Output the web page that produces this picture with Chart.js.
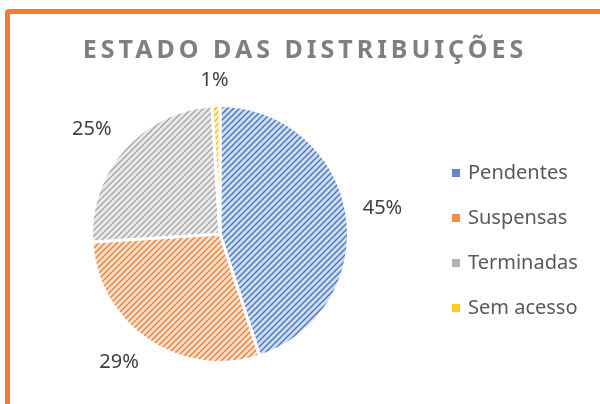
<!DOCTYPE html>
<html><head><meta charset="utf-8">
<script src="https://cdn.jsdelivr.net/npm/chart.js@4.4.0/dist/chart.umd.min.js"></script>
<style>
html,body{margin:0;padding:0;background:#fff;width:600px;height:404px;overflow:hidden;}
#frame{position:absolute;left:5px;top:9px;width:700px;height:500px;border:5px solid #ED7D31;border-radius:4px;box-sizing:border-box;}
#wrap{position:absolute;left:0;top:0;width:600px;height:404px;}
</style></head><body>
<div id="frame"></div>
<div id="wrap"><canvas id="c" width="600" height="404"></canvas></div>
<script>
const chartTitle = 'ESTADO DAS DISTRIBUIÇÕES';
const categories = ['Pendentes', 'Suspensas', 'Terminadas', 'Sem acesso'];
const values = [45, 29, 25, 1];
const baseColors = ['#4472C4', '#ED7D31', '#A5A5A5', '#FFC000'];

function tint(hex, f) {
  const n = parseInt(hex.slice(1), 16);
  const r = (n >> 16) & 255, g = (n >> 8) & 255, b = n & 255;
  const m = v => Math.round(v + (255 - v) * f);
  return 'rgb(' + m(r) + ',' + m(g) + ',' + m(b) + ')';
}
function makePattern(color) {
  const s = 6;
  const c = document.createElement('canvas');
  c.width = s; c.height = s;
  const x = c.getContext('2d');
  x.fillStyle = tint(color, 0.75);
  x.fillRect(0, 0, s, s);
  x.strokeStyle = color;
  x.lineWidth = 1.3;
  x.beginPath();
  x.moveTo(-1, s + 1); x.lineTo(s + 1, -1);
  x.moveTo(-1, 1); x.lineTo(1, -1);
  x.moveTo(s - 1, s + 1); x.lineTo(s + 1, s - 1);
  x.stroke();
  return x.createPattern(c, 'repeat');
}
const patterns = baseColors.map(makePattern);

const FONT = "'Noto Sans', 'Open Sans', sans-serif";

const titlePlugin = {
  id: 'spacedTitle',
  afterDraw(chart, args, opts) {
    const ctx = chart.ctx;
    ctx.save();
    ctx.font = 'bold ' + opts.size + 'px ' + FONT;
    ctx.letterSpacing = opts.spacing + 'px';
    ctx.fillStyle = opts.color;
    ctx.textBaseline = 'middle';
    ctx.textAlign = 'left';
    const w = ctx.measureText(opts.text).width - opts.spacing;
    ctx.fillText(opts.text, opts.cx - w / 2, opts.cy);
    ctx.restore();
  }
};

const pctPlugin = {
  id: 'pctLabels',
  afterDatasetsDraw(chart, args, opts) {
    const ctx = chart.ctx;
    const meta = chart.getDatasetMeta(0);
    const data = chart.data.datasets[0].data;
    const total = data.reduce((a, b) => a + b, 0);
    ctx.save();
    ctx.font = opts.size + 'px ' + FONT;
    ctx.fillStyle = opts.color;
    ctx.textAlign = 'center';
    ctx.textBaseline = 'middle';
    meta.data.forEach((arc, i) => {
      const p = arc.getProps(['x', 'y', 'startAngle', 'endAngle', 'outerRadius'], true);
      const mid = (p.startAngle + p.endAngle) / 2;
      const dx = Math.cos(mid), dy = Math.sin(mid);
      const txt = Math.round(data[i] / total * 100) + '%';
      const w = ctx.measureText(txt).width, h = opts.size * 0.9;
      const d = p.outerRadius + opts.gap;
      const fx = Math.sign(dx) * Math.min(1, Math.abs(dx) * 2);
      const fy = Math.sign(dy) * Math.min(1, Math.abs(dy) * 2);
      const x = p.x + dx * d + fx * w / 2;
      const y = p.y + dy * d + fy * h / 2;
      ctx.fillText(txt, x, y);
    });
    ctx.restore();
  }
};

const legendPlugin = {
  id: 'sideLegend',
  afterDraw(chart, args, opts) {
    const ctx = chart.ctx;
    ctx.save();
    ctx.font = opts.size + 'px ' + FONT;
    ctx.textBaseline = 'middle';
    ctx.textAlign = 'left';
    chart.data.labels.forEach((lab, i) => {
      const y = opts.y0 + i * opts.step;
      ctx.fillStyle = tint(baseColors[i], 0.15);
      ctx.fillRect(opts.x, y - opts.box / 2, opts.box, opts.box);
      ctx.fillStyle = opts.color;
      ctx.fillText(lab, opts.x + opts.box + opts.gap, y);
    });
    ctx.restore();
  }
};

new Chart(document.getElementById('c'), {
  type: 'pie',
  data: {
    labels: categories,
    datasets: [{
      data: values,
      backgroundColor: patterns,
      borderColor: '#ffffff',
      borderWidth: 3,
      hoverOffset: 0
    }]
  },
  options: {
    responsive: false,
    animation: false,
    events: [],
    layout: { padding: { left: 90, right: 250, top: 104, bottom: 40 } },
    plugins: {
      legend: { display: false },
      title: { display: false },
      tooltip: { enabled: false },
      spacedTitle: { text: chartTitle, size: 25, spacing: 4, color: '#7F7F7F', cx: 303, cy: 51 },
      pctLabels: { size: 20, color: '#404040', gap: 16 },
      sideLegend: { x: 452, y0: 173, step: 45, box: 8, gap: 8, size: 20, color: '#595959' }
    }
  },
  plugins: [titlePlugin, pctPlugin, legendPlugin]
});
</script>
</body></html>
